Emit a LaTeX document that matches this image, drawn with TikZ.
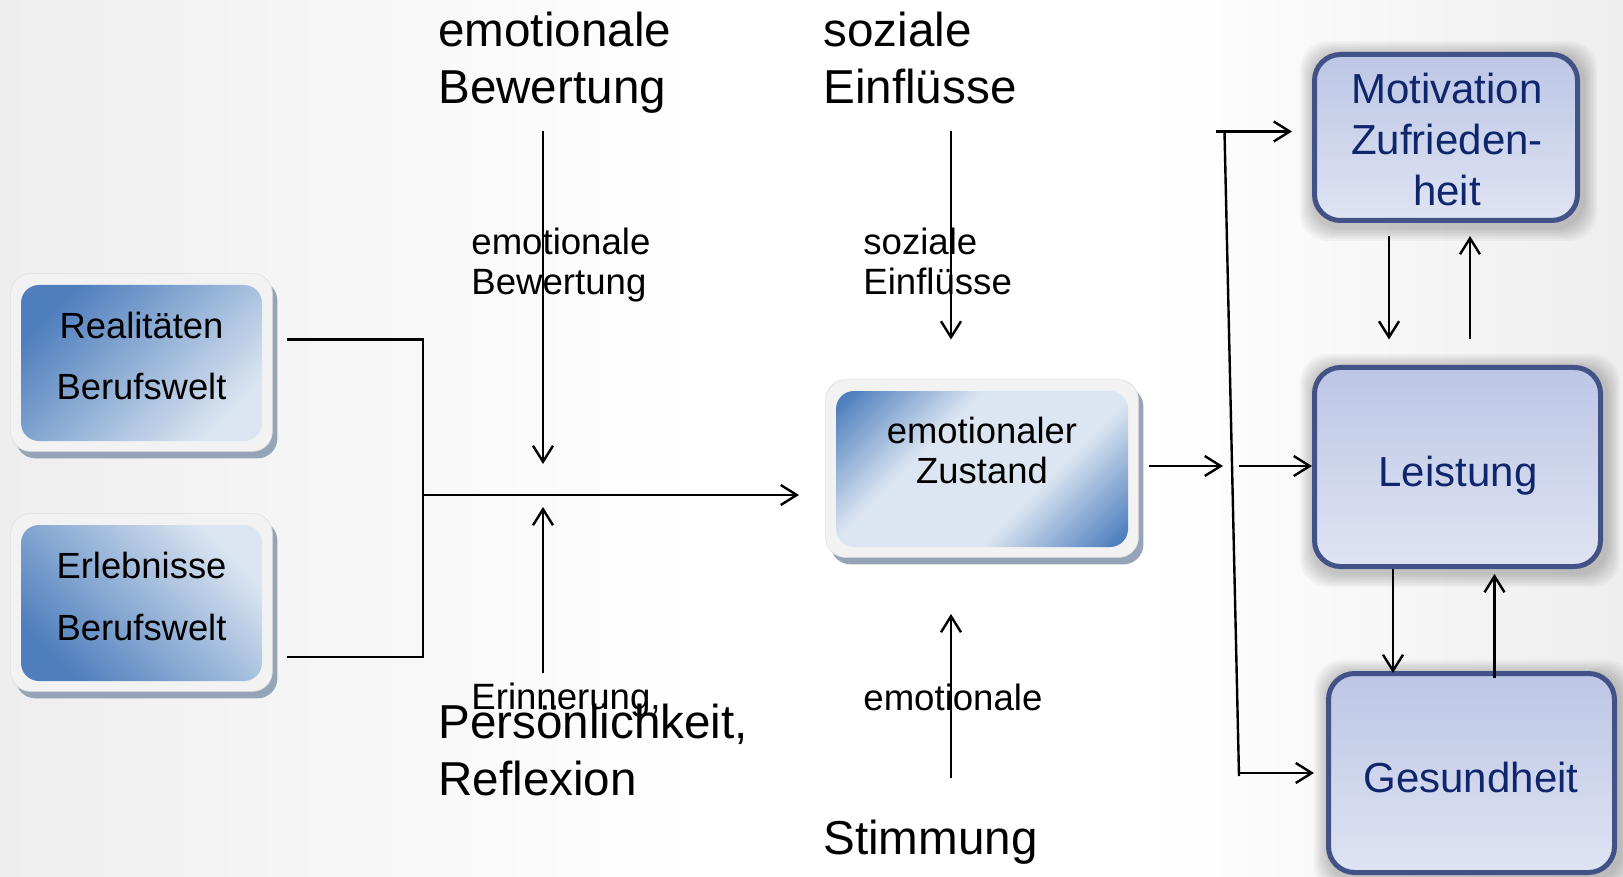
\documentclass[tikz,border=0pt]{standalone}
\usepackage{fontspec}
\setmainfont{Liberation Sans}
\usetikzlibrary{arrows.meta,calc}
\pgfdeclarelayer{back}\pgfdeclarelayer{bg}
\pgfsetlayers{back,bg,main}
\definecolor{bdark}{RGB}{79,127,189}
\definecolor{blight}{RGB}{220,230,242}
\definecolor{framecol}{RGB}{242,242,242}
\definecolor{fshadow}{RGB}{150,164,184}
\definecolor{rborder}{RGB}{66,82,134}
\definecolor{rtop}{RGB}{188,198,229}
\definecolor{rbot}{RGB}{223,228,243}
\definecolor{navy}{RGB}{16,38,108}
\definecolor{bggray}{RGB}{238,238,238}
\pgfdeclareverticalshading{ezshade}{100bp}{color(0bp)=(bdark); color(17bp)=(bdark); color(38bp)=(blight); color(62bp)=(blight); color(83bp)=(bdark); color(100bp)=(bdark)}
\tikzset{
  lbox/.style={rounded corners=9pt, minimum width=120.5pt, minimum height=78pt, inner sep=0pt},
  rbox/.style={draw=rborder, line width=2.5pt, rounded corners=13pt, top color=rtop, bottom color=rbot, inner sep=0pt},
  arr/.style={-{Straight Barb[length=8pt,width=10pt,line width=1.2pt]}, line width=1.2pt},
  conn/.style={line width=1.2pt},
  bigtxt/.style={anchor=base west, inner sep=0pt, font=\fontsize{23.8}{28}\selectfont},
  smalltxt/.style={anchor=base west, inner sep=0pt, font=\fontsize{18.3}{22}\selectfont},
  boxtxt/.style={anchor=base, inner sep=0pt, font=\fontsize{18.2}{22}\selectfont},
  rtxt/.style={anchor=base, inner sep=0pt, text=navy, font=\fontsize{21}{25}\selectfont},
}
\begin{document}
\begin{tikzpicture}[x=0.5pt,y=-0.5pt]
\useasboundingbox (0,0) rectangle (1623,877);
\begin{pgfonlayer}{back}
\fill[white] (0,0) rectangle (1623,877);
\shade[left color=bggray, right color=white] (0,0) rectangle (700,877);
\shade[left color=white, right color=bggray] (1150,0) rectangle (1623,877);
\end{pgfonlayer}

% left boxes
\node[lbox, top color=bdark, bottom color=blight, shading angle=45] (r1) at (141.5,363) {};
\node[lbox, top color=blight, bottom color=bdark, shading angle=-45] (r2) at (141.5,603) {};
% emotional state
\node[lbox, minimum width=146pt, shading=ezshade, shading angle=45] (ez) at (982,469) {};

% right boxes
\node[rbox, minimum width=131.5pt, minimum height=83pt] (mz) at (1446,137.5) {};
\node[rbox, minimum width=143pt, minimum height=99.5pt] (le) at (1457.5,467) {};
\node[rbox, minimum width=143pt, minimum height=99.5pt] (ge) at (1471.5,773) {};

\begin{pgfonlayer}{bg}
\foreach \b in {r1,r2,ez}{
  \fill[fshadow, rounded corners=10pt] ([shift={(-5,-4)}]\b.north west) rectangle ([shift={(15,17)}]\b.south east);
  \fill[framecol, draw=gray!25, line width=0.3pt, rounded corners=10pt] ([shift={(-10,-11)}]\b.north west) rectangle ([shift={(10,10)}]\b.south east);
}
\foreach \b in {mz,le,ge}{
  \foreach \i in {1,...,7}{
    \fill[black, opacity=0.03, rounded corners=14pt] ([shift={({-2*\i+2},{-2*\i+3})}]\b.north west) rectangle ([shift={({2*\i+3},{2*\i+4})}]\b.south east);
  }
}
\end{pgfonlayer}

% box texts
\node[boxtxt] (r1a) at (141.5,339) {Realitäten};
\node[boxtxt] (r1b) at (141.5,400) {Berufswelt};
\node[boxtxt] (r2a) at (141.5,578) {Erlebnisse};
\node[boxtxt] (r2b) at (141.5,640) {Berufswelt};
\node[boxtxt] (eza) at (982,443) {emotionaler};
\node[boxtxt] (ezb) at (982,483) {Zustand};
\node[rtxt] (mza) at (1447,103.5) {Motivation};
\node[rtxt] (mzb) at (1447,155) {Zufrieden-};
\node[rtxt] (mzc) at (1447,206) {heit};
\node[rtxt] (lea) at (1458,486.5) {Leistung};
\node[rtxt] (gea) at (1471,792) {Gesundheit};

% labels
\node[bigtxt] (l1a) at (438,46.5) {emotionale};
\node[bigtxt] (l1b) at (438,103.5) {Bewertung};
\node[bigtxt] (l2a) at (823,46.5) {soziale};
\node[bigtxt] (l2b) at (823,103.5) {Einflüsse};
\node[smalltxt] (s1a) at (471,254.6) {emotionale};
\node[smalltxt] (s1b) at (471,295) {Bewertung};
\node[smalltxt] (s2a) at (863,254.6) {soziale};
\node[smalltxt] (s2b) at (863,295) {Einflüsse};
\node[smalltxt] (s3a) at (471,709) {Erinnerung,};
\node[bigtxt] (l3a) at (438,738) {Persönlichkeit,};
\node[bigtxt] (l3b) at (438,795) {Reflexion};
\node[smalltxt] (s4a) at (863,710) {emotionale};
\node[bigtxt] (l4a) at (823,854) {Stimmung};

% coordinates
\coordinate (bt1) at (287,339.5);
\coordinate (bt2) at (423,339.5);
\coordinate (bb1) at (287,657);
\coordinate (bb2) at (423,657);
\coordinate (bm) at (423,495);
\coordinate (bme) at (799,495);
\coordinate (a1s) at (543,131.5);
\coordinate (a1e) at (543,464);
\coordinate (a2s) at (543,673);
\coordinate (a2e) at (543,507);
\coordinate (a3s) at (951,131.5);
\coordinate (a3e) at (951,339.5);
\coordinate (a4s) at (951,778);
\coordinate (a4e) at (951,614);
\coordinate (c1) at (1149,466);
\coordinate (c2) at (1223,466);
\coordinate (c3) at (1239,466);
\coordinate (sl1) at (1224.5,131.5);
\coordinate (sl2) at (1239,776);
\coordinate (tb1) at (1216,131.5);
\coordinate (tb2) at (1292,131.5);
\coordinate (gb1) at (1239,773);
\coordinate (gb2) at (1314,773);
\coordinate (m1) at (1389,236);
\coordinate (m2) at (1389,339.5);
\coordinate (m3) at (1470,339.5);
\coordinate (m4) at (1470,236);
\coordinate (g1) at (1393,569);
\coordinate (g2) at (1393,673);
\coordinate (g3) at (1494.5,678);
\coordinate (g4) at (1494.5,574);

% connectors
\draw[conn] (bt1) -- (bt2) -- (bb2) -- (bb1);
\draw[arr] (bm) -- (bme);
\draw[arr] (a1s) -- (a1e);
\draw[arr] (a2s) -- (a2e);
\draw[arr] (a3s) -- (a3e);
\draw[arr] (a4s) -- (a4e);
\draw[arr] (c1) -- (c2);
\draw[arr] (c3) -- (c3 -| le.west);
\draw[conn] (sl1) -- (sl2);
\draw[arr] (tb1) -- (tb2);
\draw[arr] (gb1) -- (gb2);
\draw[arr] (m1) -- (m2);
\draw[arr] (m3) -- (m4);
\draw[arr] (g1) -- (g2);
\draw[arr] (g3) -- (g4);
\end{tikzpicture}
\end{document}
